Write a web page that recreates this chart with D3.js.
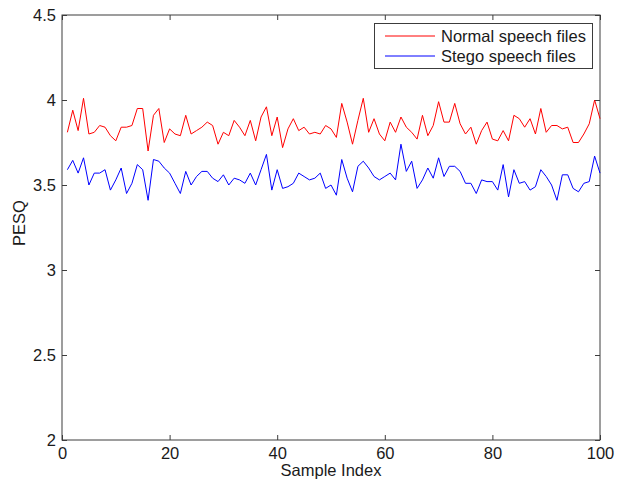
<!DOCTYPE html>
<html><head><meta charset="utf-8">
<script src="https://cdn.jsdelivr.net/npm/d3@7"></script>
<style>body{margin:0;background:#fff}svg{display:block}text{font-family:Arial,"Liberation Sans",sans-serif}</style>
</head><body><svg id="c" width="620" height="484"></svg>
<script>
const normal = [3.81,3.94,3.82,4.01,3.80,3.81,3.85,3.84,3.79,3.76,3.84,3.84,3.85,3.95,3.95,3.70,3.91,3.95,3.75,3.83,
3.80,3.79,3.91,3.80,3.82,3.84,3.87,3.85,3.74,3.81,3.79,3.88,3.84,3.79,3.88,3.76,3.90,3.96,3.79,3.90,
3.72,3.83,3.89,3.82,3.84,3.80,3.81,3.80,3.85,3.83,3.78,3.98,3.87,3.74,3.88,4.01,3.81,3.89,3.80,3.76,
3.87,3.81,3.90,3.84,3.81,3.77,3.91,3.79,3.85,3.99,3.87,3.87,3.98,3.86,3.80,3.84,3.74,3.82,3.87,3.77,
3.76,3.82,3.76,3.91,3.89,3.84,3.89,3.80,3.95,3.81,3.85,3.85,3.83,3.84,3.75,3.75,3.80,3.86,4.00,3.89];
const stego = [3.59,3.645,3.57,3.66,3.50,3.57,3.57,3.59,3.47,3.53,3.60,3.45,3.51,3.62,3.59,3.41,3.65,3.64,3.60,3.57,
3.51,3.45,3.58,3.50,3.55,3.58,3.58,3.54,3.52,3.56,3.50,3.54,3.53,3.51,3.57,3.50,3.59,3.68,3.47,3.59,
3.48,3.49,3.51,3.57,3.55,3.53,3.54,3.57,3.48,3.50,3.44,3.65,3.54,3.46,3.61,3.64,3.60,3.55,3.53,3.55,
3.57,3.53,3.74,3.58,3.64,3.48,3.53,3.60,3.54,3.66,3.55,3.61,3.61,3.58,3.51,3.51,3.45,3.53,3.52,3.52,
3.47,3.62,3.43,3.59,3.51,3.52,3.47,3.49,3.59,3.55,3.50,3.41,3.56,3.56,3.48,3.46,3.51,3.52,3.67,3.57];
const xTicks = [0,20,40,60,80,100];
const yTicks = [2,2.5,3,3.5,4,4.5];
const seriesNames = ["Normal speech files","Stego speech files"];
const seriesColors = ["#ff0000","#0000ff"];

const svg = d3.select("#c");
const L=62,R=600,T=15,B=440;
const x = d3.scaleLinear().domain([0,100]).range([L,R]);
const y = d3.scaleLinear().domain([2,4.5]).range([B,T]);
const axisColor="#3c3c3c";
const txtColor="#1a1a1a";

const g = svg.append("g");
const fs = 16.5;
const xa = d3.axisBottom(x).tickValues(xTicks).tickSizeInner(-5).tickSizeOuter(0).tickPadding(7).tickFormat(d3.format("d"));
const xat = d3.axisTop(x).tickValues(xTicks).tickSizeInner(-5).tickSizeOuter(0).tickFormat("");
const ya = d3.axisLeft(y).tickValues(yTicks).tickSizeInner(-5).tickSizeOuter(0).tickPadding(6).tickFormat(d=>d3.format("")(d));
const yar = d3.axisRight(y).tickValues(yTicks).tickSizeInner(-5).tickSizeOuter(0).tickFormat("");
function style(sel){sel.selectAll("path,line").attr("stroke",axisColor).attr("stroke-width",1);sel.selectAll("text").attr("fill",txtColor).style("font-size",fs+"px");sel.select(".domain").remove();}
g.append("g").attr("transform",`translate(0,${B})`).call(xa).call(style);
g.append("g").attr("transform",`translate(0,${T})`).call(xat).call(style);
g.append("g").attr("transform",`translate(${L},0)`).call(ya).call(style);
g.append("g").attr("transform",`translate(${R},0)`).call(yar).call(style);
g.append("rect").attr("x",L).attr("y",T).attr("width",R-L).attr("height",B-T).attr("fill","none").attr("stroke",axisColor).attr("stroke-width",1);

const data=[normal,stego];
const line = d3.line().x((d,i)=>x(i+1)).y(d=>y(d));
data.forEach((s,k)=>{
  svg.append("path").datum(s).attr("d",line).attr("fill","none").attr("stroke",seriesColors[k]).attr("stroke-width",1);
});

svg.append("text").attr("x",(L+R)/2).attr("y",476).attr("text-anchor","middle").style("font-size",fs+"px").attr("fill",txtColor).text("Sample Index");
svg.append("text").attr("transform",`translate(25,${223}) rotate(-90)`).attr("text-anchor","middle").style("font-size",fs+"px").attr("fill",txtColor).text("PESQ");

// legend
const lg = svg.append("g");
lg.append("rect").attr("x",374.5).attr("y",23.5).attr("width",218).attr("height",45).attr("fill","#fff").attr("stroke",axisColor).attr("stroke-width",1);
seriesNames.forEach((n,k)=>{
  const yy = 36+k*20;
  lg.append("line").attr("x1",385).attr("x2",435).attr("y1",yy).attr("y2",yy).attr("stroke",seriesColors[k]).attr("stroke-width",1);
  lg.append("text").attr("x",441).attr("y",yy+5.5).style("font-size",fs+"px").attr("fill",txtColor).text(n);
});
</script></body></html>
